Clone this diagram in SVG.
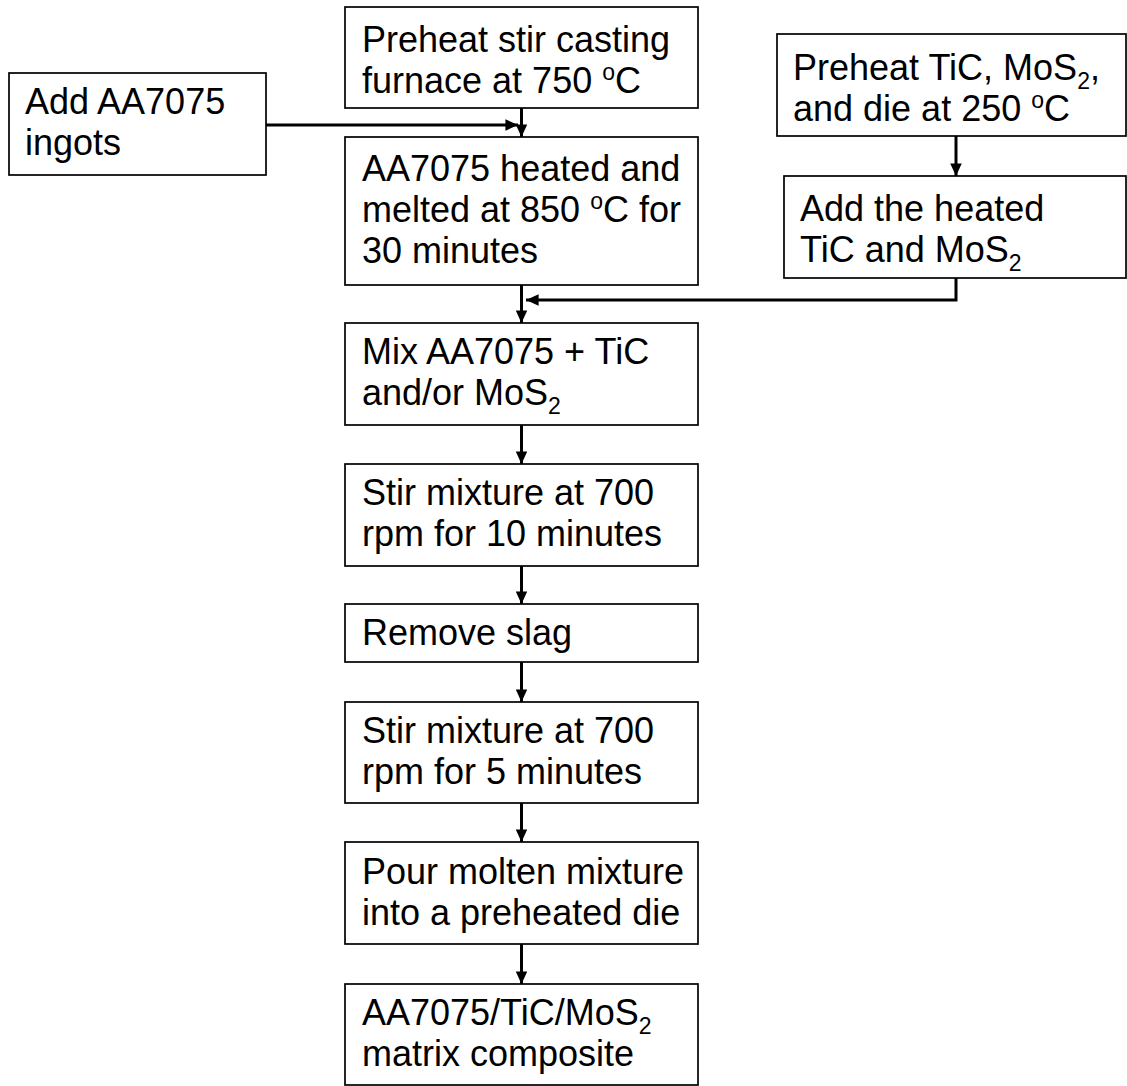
<svg xmlns="http://www.w3.org/2000/svg" width="1127" height="1086" viewBox="0 0 1127 1086">
  <style>
    .box { fill: #ffffff; stroke: #000000; stroke-width: 1.7; }
    .lbl { font-family: "Liberation Sans", Arial, sans-serif; font-size: 36px; fill: #000000; }
    .sup { font-size: 23px; }
    .sub { font-size: 23px; }
    .wire { fill: none; stroke: #000000; stroke-width: 3; }
  </style>
  <defs>
    <marker id="arrow" viewBox="0 0 12 11" refX="12" refY="5.5" markerWidth="4.2" markerHeight="3.9" orient="auto" markerUnits="strokeWidth">
      <path d="M0,0 L12,5.5 L0,11 Z" fill="#000000"/>
    </marker>
  </defs>
  <rect width="1127" height="1086" fill="#ffffff"/>

  <g id="connectors">
    <path class="wire" d="M266,125 H518" marker-end="url(#arrow)"/>
    <path class="wire" d="M521.5,108 V137" marker-end="url(#arrow)"/>
    <path class="wire" d="M956,136 V176" marker-end="url(#arrow)"/>
    <path class="wire" d="M956,278 V300 H526" marker-end="url(#arrow)"/>
    <path class="wire" d="M521.5,285 V323" marker-end="url(#arrow)"/>
    <path class="wire" d="M521.5,425 V464" marker-end="url(#arrow)"/>
    <path class="wire" d="M521.5,566 V604" marker-end="url(#arrow)"/>
    <path class="wire" d="M521.5,662 V702" marker-end="url(#arrow)"/>
    <path class="wire" d="M521.5,803 V842" marker-end="url(#arrow)"/>
    <path class="wire" d="M521.5,944 V984" marker-end="url(#arrow)"/>
  </g>

  <g id="add-ingots">
    <rect class="box" x="9" y="73" width="257" height="102"/>
    <text class="lbl" x="25" y="114">Add AA7075</text>
    <text class="lbl" x="25" y="155">ingots</text>
  </g>

  <g id="preheat-furnace">
    <rect class="box" x="345" y="7" width="353" height="101"/>
    <text class="lbl" x="362" y="52">Preheat stir casting</text>
    <text class="lbl" x="362" y="93">furnace at 750 <tspan class="sup" dy="-13">o</tspan><tspan dy="13">C</tspan></text>
  </g>

  <g id="heat-melt">
    <rect class="box" x="345" y="137" width="353" height="148"/>
    <text class="lbl" x="362" y="181">AA7075 heated and</text>
    <text class="lbl" x="362" y="222">melted at 850 <tspan class="sup" dy="-13">o</tspan><tspan dy="13">C for</tspan></text>
    <text class="lbl" x="362" y="263">30 minutes</text>
  </g>

  <g id="preheat-powders">
    <rect class="box" x="777" y="34" width="349" height="102"/>
    <text class="lbl" x="793" y="80">Preheat TiC, MoS<tspan class="sub" dy="9">2</tspan><tspan dy="-9">,</tspan></text>
    <text class="lbl" x="793" y="121">and die at 250 <tspan class="sup" dy="-13">o</tspan><tspan dy="13">C</tspan></text>
  </g>

  <g id="add-powders">
    <rect class="box" x="784" y="176" width="342" height="102"/>
    <text class="lbl" x="800" y="221">Add the heated</text>
    <text class="lbl" x="800" y="262">TiC and MoS<tspan class="sub" dy="9">2</tspan></text>
  </g>

  <g id="mix">
    <rect class="box" x="345" y="323" width="353" height="102"/>
    <text class="lbl" x="362" y="364">Mix AA7075 + TiC</text>
    <text class="lbl" x="362" y="405">and/or MoS<tspan class="sub" dy="9">2</tspan></text>
  </g>

  <g id="stir-10">
    <rect class="box" x="345" y="464" width="353" height="102"/>
    <text class="lbl" x="362" y="505">Stir mixture at 700</text>
    <text class="lbl" x="362" y="546">rpm for 10 minutes</text>
  </g>

  <g id="remove-slag">
    <rect class="box" x="345" y="604" width="353" height="58"/>
    <text class="lbl" x="362" y="645">Remove slag</text>
  </g>

  <g id="stir-5">
    <rect class="box" x="345" y="702" width="353" height="101"/>
    <text class="lbl" x="362" y="743">Stir mixture at 700</text>
    <text class="lbl" x="362" y="784">rpm for 5 minutes</text>
  </g>

  <g id="pour">
    <rect class="box" x="345" y="842" width="353" height="102"/>
    <text class="lbl" x="362" y="884">Pour molten mixture</text>
    <text class="lbl" x="362" y="925">into a preheated die</text>
  </g>

  <g id="composite">
    <rect class="box" x="345" y="984" width="353" height="101"/>
    <text class="lbl" x="362" y="1025">AA7075/TiC/MoS<tspan class="sub" dy="9">2</tspan></text>
    <text class="lbl" x="362" y="1066">matrix composite</text>
  </g>
</svg>
